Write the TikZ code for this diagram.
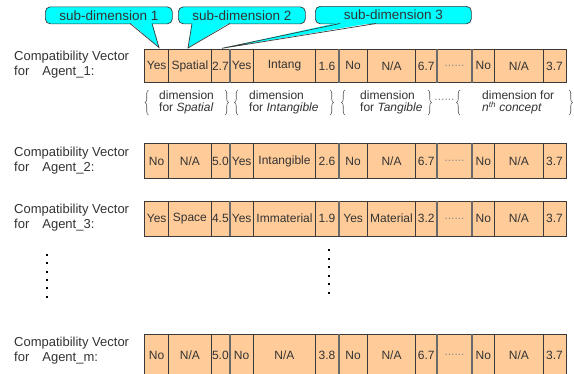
\documentclass[tikz,border=0pt]{standalone}
\usepackage{fontspec}
\setmainfont{Liberation Sans}
\usetikzlibrary{decorations.pathreplacing}
\definecolor{cellfill}{HTML}{FFCC99}
\definecolor{cellline}{HTML}{3A3A3A}
\definecolor{txt}{HTML}{333333}
\definecolor{calloutfill}{HTML}{00FFFF}
\definecolor{sepcol}{HTML}{6A6A6A}
\definecolor{bracecol}{HTML}{555555}
\newcommand\sixdots{{\color{black!45}......}}
\newcommand\vecrow[4]{%
  \foreach \t [count=\i] in {#4}{%
    \pgfmathsetmacro\xl{{144.3,168.3,210.7,229.3,253.3,315,338.3,367.3,415,436.7,471.7,494.3,542.7}[\i-1]}%
    \pgfmathsetmacro\xr{{168.3,210.7,229.3,253.3,315,338.3,367.3,415,436.7,471.7,494.3,542.7,565.7}[\i-1]}%
    \pgfmathsetmacro\cw{\xr-\xl}%
    \node[cell, minimum width=\cw pt, minimum height=#3pt] (#1-\i) at (\xl,#2) {\t};
  }%
  \foreach \k in {3,6,9,10}{%
    \draw[sepline] (#1-\k.north east) -- (#1-\k.south east);
  }%
}
\begin{document}
\begin{tikzpicture}[x=1pt,y=-1pt,
  cell/.style={draw=cellline, fill=cellfill, line width=0.7pt, inner sep=0pt,
    text=txt, font=\fontsize{12}{14}\selectfont, anchor=north west},
  sepline/.style={draw=sepcol, line width=2pt},
  lbl/.style={anchor=west, align=left, inner sep=0pt, text=txt,
    font=\fontsize{13}{15}\selectfont},
  btxt/.style={anchor=west, align=left, inner sep=0pt, text=txt,
    font=\fontsize{12}{12.5}\selectfont},
  bracestyle/.style={draw=bracecol, line width=0.6pt, decorate,
    decoration={brace, amplitude=3.5pt}},
  callbox/.style={draw=cellline, fill=calloutfill, line width=0.7pt,
    rounded corners=5pt, inner sep=0pt, anchor=north west, text=txt,
    font=\fontsize{13.5}{15}\selectfont},
  calledge/.style={draw=cellline, line width=0.7pt, line join=miter},
  vdot/.style={fill=black}
]
\useasboundingbox (0,0) rectangle (574,373);
\clip (0,0) rectangle (574,373);
\fill[white] (0,0) rectangle (574,373);

% callouts
\node[callbox, minimum width=127pt, minimum height=17pt] (cb1) at (45,6.5) {sub-dimension 1};
\node[callbox, minimum width=127pt, minimum height=17pt] (cb2) at (178,6.5) {sub-dimension 2};
\node[callbox, minimum width=156pt, minimum height=17.5pt] (cb3) at (315,6) {sub-dimension 3};
\coordinate (t1) at (159,47.5);
\coordinate (t2) at (188,48);
\coordinate (t3) at (222,48.3);
\fill[calloutfill] (130,22.3) -- (t1) -- (152,22.3) -- cycle;
\draw[calledge] (130,23.5) -- (t1) -- (152,23.5);
\fill[calloutfill] (192,22.3) -- (t2) -- (230,22.3) -- cycle;
\draw[calledge] (192,23.5) -- (t2) -- (230,23.5);
\fill[calloutfill] (340,22.3) -- (t3) -- (376,22.3) -- cycle;
\draw[calledge] (340,23.5) -- (t3) -- (376,23.5);

% rows
\vecrow{r1}{49.3}{32.5}{Yes,Spatial,2.7,Yes,Intang,1.6,No,N/A,6.7,\sixdots,No,N/A,3.7}
\vecrow{r2}{143.3}{35}{No,N/A,5.0,Yes,Intangible,2.6,No,N/A,6.7,\sixdots,No,N/A,3.7}
\vecrow{r3}{200.7}{35}{Yes,Space,4.5,Yes,Immaterial,1.9,Yes,Material,3.2,\sixdots,No,N/A,3.7}
\vecrow{rm}{334}{42}{No,N/A,5.0,No,N/A,3.8,No,N/A,6.7,\sixdots,No,N/A,3.7}

% labels
\node[lbl] (l1) at (14,65) {Compatibility Vector\\for\hspace{13pt}Agent\_1:};
\node[lbl] (l2) at (14,160.5) {Compatibility Vector\\for\hspace{13pt}Agent\_2:};
\node[lbl] (l3) at (14,218) {Compatibility Vector\\for\hspace{13pt}Agent\_3:};
\node[lbl] (lm) at (14,351) {Compatibility Vector\\for\hspace{13pt}Agent\_m:};

% braces
\draw[bracestyle] (148.5,115) -- (148.5,90);
\draw[bracestyle] (225,90) -- (225,115);
\draw[bracestyle] (238,115) -- (238,90);
\draw[bracestyle] (330,90) -- (330,115);
\draw[bracestyle] (345,115) -- (345,90);
\draw[bracestyle] (428,90) -- (428,115);
\draw[bracestyle] (460,115) -- (460,90);
\draw[bracestyle] (569,90) -- (569,115);
\node[btxt] (d1) at (159,102.5) {dimension\\for \textit{Spatial}};
\node[btxt] (d2) at (249,102.5) {dimension\\for \textit{Intangible}};
\node[btxt] (d3) at (360,102.5) {dimension\\for \textit{Tangible}};
\node[btxt] (d4) at (482,102.5) {dimension for\\\textit{n\textsuperscript{th} concept}};
\node[inner sep=0pt, font=\fontsize{12}{12}\selectfont] (dd) at (444.5,100) {\sixdots};

% vertical ellipses
\foreach \y in {255,263.3,271.6,280,288.3,296.6}
  \fill[vdot] (45.7,\y-1) rectangle ++(2,2);
\foreach \y in {250,258.5,267,275.5,284,292.5}
  \fill[vdot] (328.3,\y-1) rectangle ++(2,2);
\end{tikzpicture}
\end{document}
